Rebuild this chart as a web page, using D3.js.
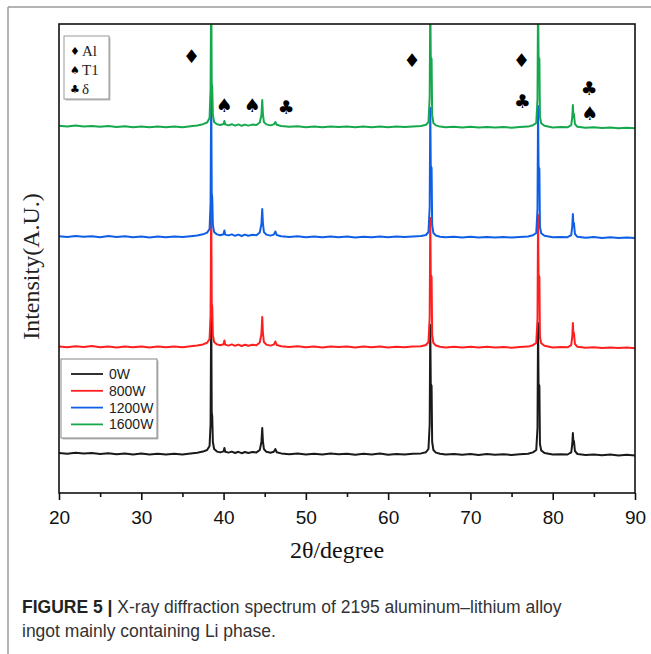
<!DOCTYPE html>
<html>
<head>
<meta charset="utf-8">
<script src="https://cdn.jsdelivr.net/npm/d3@7"></script>
<style>
  body { margin: 0; background: #fff; }
  svg { display: block; }
</style>
</head>
<body>
<svg width="651" height="654"></svg>
<script>
// legend entries / colours
const seriesNames = ["0W", "800W", "1200W", "1600W"];
const seriesColors = ["#1a1a1a", "#ff1f1f", "#0f5fe6", "#16a84c"];
// vertical stacking offset of each pattern (A.U.)
const seriesOffsets = [39, 146, 256, 366];

const xTicks = [20, 30, 40, 50, 60, 70, 80, 90];

// [2theta, intensity above own baseline]
const xrd0W = [
  [20, 1], [21, 0.2], [22, 1.2], [23, 0.4], [24, 1], [25, 0], [26, 0.8], [27, -0.2], [28, 0.6], [29, -0.4],
  [30, 0.4], [31, -0.6], [32, 0.2], [33, -0.5], [34, 0.3], [35, -0.4], [36, 0.5], [36.8, 1.2], [37.5, 2.4], [38.0, 4],
  [38.3, 8], [38.42, 30], [38.5, 148], [38.56, 42], [38.62, 38], [38.7, 12], [38.85, 5], [39.2, 2.4], [39.6, 1.6], [40.0, 2.6],
  [40.1, 6], [40.2, 2.2], [40.6, 1.4], [41.0, 2.4], [41.4, 1.0], [41.8, 2.2], [42.2, 0.8], [42.6, 2.0], [43.0, 1.0], [43.5, 2.0],
  [44.0, 1.6], [44.4, 4], [44.6, 12], [44.7, 26], [44.78, 13], [44.9, 5], [45.2, 2.2], [45.7, 1.2], [46.1, 2.2], [46.3, 5],
  [46.45, 1.8], [47, 0.6], [48, -0.2], [49, 0.6], [50, -0.5], [51, 0.3], [52, -0.6], [53, 0.4], [54, -0.3], [55, 0.2],
  [56, -0.8], [57, 0.2], [58, -0.5], [59, 0.4], [60, -0.7], [61, 0.1], [62, -0.4], [63, 0.3], [64, 0.6], [64.6, 1.8],
  [64.9, 5], [65.05, 30], [65.12, 129], [65.18, 70], [65.28, 68], [65.35, 12], [65.5, 4], [65.8, 1.4], [66.3, 0.2], [67, -0.6],
  [68, 0.1], [69, -0.8], [70, -0.1], [71, -0.9], [72, 0], [73, -0.8], [74, -0.2], [75, -1], [76, -0.3], [77, 0.2],
  [77.6, 1.6], [78.0, 4], [78.15, 26], [78.22, 131], [78.28, 70], [78.38, 68], [78.45, 10], [78.6, 3.6], [79, 1], [80, -0.6],
  [81, -0.2], [81.8, -0.5], [82.25, 1.6], [82.38, 10], [82.45, 21], [82.52, 11], [82.58, 13], [82.7, 3], [83, 0], [84, -1],
  [85, -0.4], [86, -1.2], [87, -0.6], [88, -1.4], [89, -0.8], [90, -1.5]
];

const xrd800W = [
  [20, 0.6], [21, -0.2], [22, 0.8], [23, 0], [24, 0.9], [25, -0.3], [26, 0.6], [27, -0.4], [28, 0.5], [29, -0.2],
  [30, 0.6], [31, -0.5], [32, 0.4], [33, -0.3], [34, 0.5], [35, -0.2], [36, 0.7], [36.8, 1.4], [37.5, 2.6], [38.0, 4.2],
  [38.3, 8], [38.42, 32], [38.5, 146], [38.56, 44], [38.62, 40], [38.7, 12], [38.85, 5], [39.2, 2.6], [39.6, 1.8], [40.0, 2.8],
  [40.1, 6.5], [40.2, 2.4], [40.6, 1.4], [41.0, 2.6], [41.4, 1.2], [41.8, 2.4], [42.2, 1.0], [42.6, 2.2], [43.0, 1.2], [43.5, 2.2],
  [44.0, 1.8], [44.4, 4.5], [44.6, 13], [44.7, 30], [44.78, 14], [44.9, 5], [45.2, 2.4], [45.7, 1.4], [46.1, 2.4], [46.3, 5.5],
  [46.45, 2], [47, 0.8], [48, 0], [49, 0.8], [50, -0.2], [51, 0.5], [52, -0.4], [53, 0.6], [54, -0.1], [55, 0.4],
  [56, -0.5], [57, 0.4], [58, -0.3], [59, 0.5], [60, -0.4], [61, 0.3], [62, -0.2], [63, 0.5], [64, 0.8], [64.6, 2],
  [64.9, 5], [65.05, 30], [65.12, 129], [65.18, 72], [65.28, 70], [65.35, 12], [65.5, 4], [65.8, 1.5], [66.3, 0.3], [67, -0.4],
  [68, 0.3], [69, -0.6], [70, 0.2], [71, -0.6], [72, 0.2], [73, -0.5], [74, 0], [75, -0.7], [76, -0.1], [77, 0.4],
  [77.6, 1.8], [78.0, 4], [78.15, 28], [78.22, 132], [78.28, 72], [78.38, 70], [78.45, 10], [78.6, 3.8], [79, 1.2], [80, -0.4],
  [81, 0], [81.8, -0.3], [82.25, 1.8], [82.38, 11], [82.45, 24], [82.52, 12], [82.58, 14], [82.7, 3], [83, 0.2], [84, -0.8],
  [85, -0.2], [86, -1], [87, -0.4], [88, -1.1], [89, -0.6], [90, -1.2]
];

const xrd1200W = [
  [20, 0.8], [21, 0], [22, 1], [23, 0.2], [24, 0.7], [25, -0.2], [26, 0.9], [27, -0.1], [28, 0.7], [29, -0.3],
  [30, 0.5], [31, -0.4], [32, 0.5], [33, -0.2], [34, 0.6], [35, -0.1], [36, 0.8], [36.8, 1.5], [37.5, 2.7], [38.0, 4.4],
  [38.3, 8], [38.42, 34], [38.5, 145], [38.56, 44], [38.62, 40], [38.7, 12], [38.85, 5], [39.2, 2.6], [39.6, 1.8], [40.0, 2.8],
  [40.1, 6.5], [40.2, 2.4], [40.6, 1.6], [41.0, 2.6], [41.4, 1.2], [41.8, 2.4], [42.2, 1.0], [42.6, 2.4], [43.0, 1.2], [43.5, 2.2],
  [44.0, 1.8], [44.4, 4.5], [44.6, 13], [44.7, 28], [44.78, 14], [44.9, 5], [45.2, 2.4], [45.7, 1.4], [46.1, 2.4], [46.3, 5.5],
  [46.45, 2], [47, 0.8], [48, 0.1], [49, 0.7], [50, -0.3], [51, 0.6], [52, -0.3], [53, 0.5], [54, -0.2], [55, 0.5],
  [56, -0.4], [57, 0.3], [58, -0.2], [59, 0.6], [60, -0.3], [61, 0.4], [62, -0.1], [63, 0.4], [64, 0.9], [64.6, 2],
  [64.9, 5], [65.05, 30], [65.12, 129], [65.18, 71], [65.28, 69], [65.35, 12], [65.5, 4], [65.8, 1.5], [66.3, 0.3], [67, -0.3],
  [68, 0.2], [69, -0.5], [70, 0.3], [71, -0.5], [72, 0.1], [73, -0.6], [74, 0.1], [75, -0.6], [76, 0], [77, 0.5],
  [77.6, 1.8], [78.0, 4], [78.15, 28], [78.22, 131], [78.28, 70], [78.38, 68], [78.45, 10], [78.6, 3.8], [79, 1.2], [80, -0.3],
  [81, 0.1], [81.8, -0.2], [82.25, 1.8], [82.38, 11], [82.45, 23], [82.52, 12], [82.58, 14], [82.7, 3], [83, 0.2], [84, -0.7],
  [85, -0.1], [86, -0.9], [87, -0.3], [88, -1.0], [89, -0.5], [90, -1.1]
];

const xrd1600W = [
  [20, 1.2], [21, 0.4], [22, 1.4], [23, 0.5], [24, 1.1], [25, 0.2], [26, 0.9], [27, 0], [28, 0.8], [29, -0.2],
  [30, 0.6], [31, -0.3], [32, 0.5], [33, -0.2], [34, 0.4], [35, -0.2], [36, 0.8], [36.8, 1.6], [37.5, 2.8], [38.0, 4.5],
  [38.3, 9], [38.42, 38], [38.5, 145], [38.56, 44], [38.62, 40], [38.7, 12], [38.85, 5], [39.2, 2.8], [39.6, 2.0], [40.0, 3.0],
  [40.1, 6], [40.2, 2.6], [40.6, 1.6], [41.0, 2.8], [41.4, 1.4], [41.8, 2.6], [42.2, 1.2], [42.6, 2.4], [43.0, 1.4], [43.5, 2.4],
  [44.0, 2.0], [44.4, 4.5], [44.6, 12], [44.7, 27], [44.78, 13], [44.9, 5], [45.2, 2.6], [45.7, 1.6], [46.1, 2.6], [46.3, 5],
  [46.45, 2.2], [47, 1], [48, 0.2], [49, 0.8], [50, -0.2], [51, 0.6], [52, -0.2], [53, 0.6], [54, -0.1], [55, 0.5],
  [56, -0.3], [57, 0.4], [58, -0.2], [59, 0.5], [60, -0.3], [61, 0.4], [62, -0.1], [63, 0.5], [64, 1], [64.6, 2.2],
  [64.9, 5], [65.05, 30], [65.12, 129], [65.18, 70], [65.28, 68], [65.35, 12], [65.5, 4], [65.8, 1.6], [66.3, 0.4], [67, -0.3],
  [68, 0.3], [69, -0.5], [70, 0.2], [71, -0.6], [72, 0.1], [73, -0.6], [74, 0], [75, -0.7], [76, 0], [77, 0.4],
  [77.6, 1.8], [78.0, 4], [78.15, 28], [78.22, 131], [78.28, 70], [78.38, 68], [78.45, 10], [78.6, 3.8], [79, 1.2], [80, -0.4],
  [81, 0], [81.8, -0.3], [82.25, 1.8], [82.38, 10], [82.45, 22], [82.52, 11], [82.58, 13], [82.7, 3], [83, 0.2], [84, -0.8],
  [85, -0.3], [86, -1], [87, -0.5], [88, -1.2], [89, -0.7], [90, -1.3]
];

const allSeries = [xrd0W, xrd800W, xrd1200W, xrd1600W];

// phase markers: [2theta, intensity position, symbol]
const phaseLegend = [["\u2666", "Al"], ["\u2660", "T1"], ["\u2663", "\u03b4"]];
const phaseMarks = [
  [36.1, 437, "\u2666"], [40.1, 388, "\u2660"], [43.5, 388, "\u2660"], [47.6, 386, "\u2663"],
  [62.9, 433, "\u2666"], [76.2, 433, "\u2666"], [76.3, 392, "\u2663"],
  [84.4, 405, "\u2663"], [84.5, 380, "\u2660"]
];

const svg = d3.select("svg");
const margin = { left: 59, right: 16, top: 24, bottom: 161 };
const W = 651, H = 654;
const plotW = W - margin.left - margin.right;
const plotH = H - margin.top - margin.bottom;

// outer figure frame (grey)
svg.append("line").attr("x1", 8).attr("x2", W).attr("y1", 7).attr("y2", 7)
  .attr("stroke", "#9a9a9a").attr("stroke-width", 1.5);
svg.append("line").attr("x1", 8).attr("x2", 8).attr("y1", 7).attr("y2", H)
  .attr("stroke", "#9a9a9a").attr("stroke-width", 1.5);

const g = svg.append("g").attr("transform", `translate(${margin.left},${margin.top})`);

const x = d3.scaleLinear().domain([20, 90]).range([0, plotW]);
const y = d3.scaleLinear().domain([0, 469]).range([plotH, 0]);

g.append("clipPath").attr("id", "clip")
  .append("rect").attr("width", plotW).attr("height", plotH);

const line = d3.line()
  .x(d => x(d[0]))
  .y(d => y(d[1]));

const traces = g.append("g").attr("clip-path", "url(#clip)");
allSeries.forEach((s, i) => {
  const pts = s.map(d => [d[0], d[1] + seriesOffsets[i]]);
  traces.append("path")
    .datum(pts)
    .attr("fill", "none")
    .attr("stroke", seriesColors[i])
    .attr("stroke-width", 2)
    .attr("stroke-linejoin", "round")
    .attr("d", line);
});

// box
g.append("rect").attr("width", plotW).attr("height", plotH)
  .attr("fill", "none").attr("stroke", "#111").attr("stroke-width", 1.6);

// x axis, major + minor ticks
const xAxis = g.append("g").attr("transform", `translate(0,${plotH})`)
  .call(d3.axisBottom(x).tickValues(xTicks).tickSize(7).tickPadding(11).tickFormat(d3.format("d")));
xAxis.select(".domain").remove();
xAxis.selectAll(".tick line").attr("stroke", "#111").attr("stroke-width", 1.6);
xAxis.selectAll(".tick text")
  .attr("font-family", "'Liberation Sans', Arial, sans-serif")
  .attr("font-size", 19).attr("fill", "#111");
const minor = g.append("g").attr("transform", `translate(0,${plotH})`)
  .call(d3.axisBottom(x).tickValues([25, 35, 45, 55, 65, 75, 85]).tickSize(4).tickFormat(""));
minor.select(".domain").remove();
minor.selectAll(".tick line").attr("stroke", "#111").attr("stroke-width", 1.6);

// axis titles
g.append("text")
  .attr("x", plotW / 2 - 10).attr("y", plotH + 65)
  .attr("text-anchor", "middle")
  .attr("font-family", "'Liberation Serif', 'Times New Roman', serif")
  .attr("font-size", 24).attr("fill", "#111")
  .text("2\u03b8/degree");

g.append("text")
  .attr("transform", `translate(${33 - margin.left},${plotH / 2 + 8}) rotate(-90)`)
  .attr("text-anchor", "middle")
  .attr("dominant-baseline", "middle")
  .attr("font-family", "'Liberation Serif', 'Times New Roman', serif")
  .attr("font-size", 24).attr("fill", "#222")
  .text("Intensity(A.U.)");

// phase markers on peaks
g.selectAll(".mark").data(phaseMarks).enter().append("text")
  .attr("class", "mark")
  .attr("x", d => x(d[0])).attr("y", d => y(d[1]))
  .attr("text-anchor", "middle").attr("dominant-baseline", "central")
  .attr("font-family", "'DejaVu Sans', sans-serif")
  .attr("font-size", 19).attr("fill", "#000")
  .text(d => d[2]);

// phase legend (top left)
const pl = g.append("g").attr("transform", "translate(5,12)");
pl.append("rect").attr("x", 1.5).attr("y", 1.5).attr("width", 45).attr("height", 63).attr("fill", "#bbb");
pl.append("rect").attr("width", 45).attr("height", 63).attr("fill", "#fff").attr("stroke", "#999").attr("stroke-width", 1);
pl.selectAll(".pls").data(phaseLegend).enter().append("text")
  .attr("x", 11).attr("y", (d, i) => 15 + i * 19)
  .attr("text-anchor", "middle").attr("dominant-baseline", "central")
  .attr("font-family", "'DejaVu Sans', sans-serif").attr("font-size", 11)
  .text(d => d[0]);
pl.selectAll(".plt").data(phaseLegend).enter().append("text")
  .attr("x", 18).attr("y", (d, i) => 15 + i * 19)
  .attr("dominant-baseline", "central")
  .attr("font-family", "'Liberation Serif', 'Times New Roman', serif").attr("font-size", 15)
  .attr("fill", "#222")
  .text(d => d[1]);

// series legend (bottom left)
const sl = g.append("g").attr("transform", "translate(2,335)");
sl.append("rect").attr("x", 1.5).attr("y", 1.5).attr("width", 96).attr("height", 79).attr("fill", "#bbb");
sl.append("rect").attr("width", 96).attr("height", 79).attr("fill", "#fff").attr("stroke", "#888").attr("stroke-width", 1);
seriesNames.forEach((name, i) => {
  const yy = 15 + i * 16.8;
  sl.append("line").attr("x1", 10).attr("x2", 42).attr("y1", yy).attr("y2", yy)
    .attr("stroke", seriesColors[i]).attr("stroke-width", 1.8);
  sl.append("text").attr("x", 48).attr("y", yy).attr("dominant-baseline", "central")
    .attr("font-family", "'Liberation Sans', Arial, sans-serif").attr("font-size", 14)
    .attr("fill", "#222").text(name);
});

// caption
const cap = svg.append("text")
  .attr("font-family", "'Liberation Sans Narrow', 'Liberation Sans', Arial, sans-serif")
  .attr("font-size", 17.5).attr("fill", "#333");
const l1 = cap.append("tspan").attr("x", 22).attr("y", 613);
l1.append("tspan").attr("font-weight", "bold").attr("fill", "#222").text("FIGURE 5 | ");
l1.append("tspan").text("X-ray diffraction spectrum of 2195 aluminum\u2013lithium alloy");
cap.append("tspan").attr("x", 22).attr("y", 637).text("ingot mainly containing Li phase.");
</script>
</body>
</html>
